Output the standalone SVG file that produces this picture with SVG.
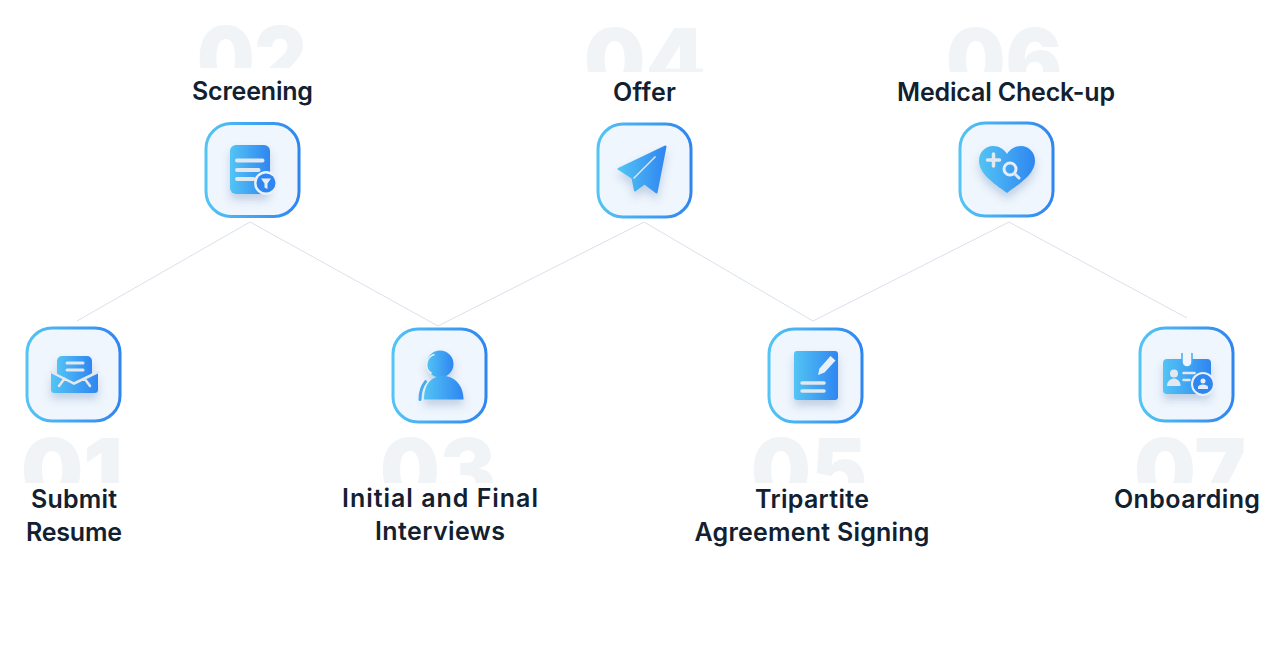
<svg xmlns="http://www.w3.org/2000/svg" width="1288" height="646" viewBox="0 0 1288 646">
<style>
.num{font-family:"Inter","Liberation Sans",sans-serif;font-weight:900;font-size:88px;fill:#f1f4f7;text-anchor:middle}
.lb{font-family:"Inter","Liberation Sans",sans-serif;font-weight:600;font-size:25px;fill:#12202f;text-anchor:middle}
.box{fill:#f0f6fd;stroke:url(#g);stroke-width:3}
.ic{fill:url(#g)}
.lt{stroke:#e3e8f0;stroke-linecap:round;fill:none}
.cn{fill:none;stroke:#d8e1eb;stroke-width:1}
</style>
<defs>
<linearGradient id="g" x1="0" y1="0" x2="1" y2="0"><stop offset="0" stop-color="#53c4f4"/><stop offset="1" stop-color="#2f86f1"/></linearGradient>
<filter id="s" x="-30%" y="-30%" width="160%" height="170%"><feDropShadow dx="0" dy="6" stdDeviation="4" flood-color="#2a5a9a" flood-opacity=".25"/></filter>
<clipPath id="c1"><rect x="180" y="0" width="140" height="68"/></clipPath>
<clipPath id="c2"><rect x="570" y="0" width="500" height="72"/></clipPath>
<clipPath id="c3"><rect x="0" y="420" width="1288" height="63"/></clipPath>
<rect id="b" x="-46.500" y="-46.500" width="93" height="93" rx="25" class="box"/>
</defs>
<rect width="1288" height="646" fill="#ffffff"/>
<g id="connectors"><polyline class="cn" points="77,321 250,222 438,326 644,222 813,321 1009,222 1187,318"/></g>
<g id="node-01">
<text class="num" x="72" y="502" textLength="102" lengthAdjust="spacingAndGlyphs" clip-path="url(#c3)">01</text>
<g transform="translate(73.500 374.500)"><use href="#b"/>
<g filter="url(#s)"><rect class="ic" x="-16.500" y="-18.500" width="35" height="30" rx="5"/><path class="ic" d="M-22.500-2.500 L.5 9 L24.500-2.500 V15 a3.500 3.500 0 0 1-3.500 3.500 H-19 a3.500 3.500 0 0 1-3.500-3.500Z"/></g>
<path class="lt" stroke-width="2.500" d="M-22.500-2.500 L.5 9 L24.500-2.500M-14.500 11.500 L-9 4M16.500 11.500 L11 4"/>
<path class="lt" stroke-width="3" stroke-linecap="butt" d="M-6.500-11.500H9.500M-6.500-4.500H9.500"/></g>
<text class="lb" x="74" y="508" textLength="86">Submit</text><text class="lb" x="74" y="541" textLength="96">Resume</text></g>
<g id="node-02">
<text class="num" x="252" y="90" textLength="110" lengthAdjust="spacingAndGlyphs" clip-path="url(#c1)">02</text>
<text class="lb" x="252.500" y="100" textLength="121">Screening</text>
<g transform="translate(252.500 170)"><use href="#b"/>
<rect class="ic" filter="url(#s)" x="-22.500" y="-25" width="40" height="49" rx="6"/>
<path class="lt" stroke-width="4" d="M-15.500-9.500H10M-15.500 0H6M-15.500 9H1"/>
<circle cx="13.500" cy="13" r="12" fill="#eaf1fa"/><circle cx="13.500" cy="13" r="9.500" fill="#2f86f1"/>
<path d="M8.500 8.500H18.500L15 13.500V19L12 17.500V13.500Z" fill="#e6edf6"/></g></g>
<g id="node-03">
<text class="num" x="438" y="502" textLength="116" lengthAdjust="spacingAndGlyphs" clip-path="url(#c3)">03</text>
<g transform="translate(439.500 375.500)"><use href="#b"/>
<g filter="url(#s)"><circle class="ic" cx=".5" cy="-11.500" r="13.500"/><path class="ic" d="M-15.500 24 C-15.500 8-8 .5 4 .5 C15 .5 24 10 24 24Z"/></g>
<path d="M-8-2A10.500 10.500 0 0 1-5-21" fill="none" stroke="#eef3fa" stroke-width="1.500"/>
<path d="M-19.500 24C-19.500 14-16 8-12 4" fill="none" stroke="#45abf3" stroke-width="3" stroke-linecap="round" stroke-dasharray="19 3 2 30"/></g>
<text class="lb" x="440" y="507" textLength="196">Initial and Final</text><text class="lb" x="440" y="540" textLength="130">Interviews</text></g>
<g id="node-04">
<text class="num" x="645" y="92" textLength="122" lengthAdjust="spacingAndGlyphs" clip-path="url(#c2)">04</text>
<text class="lb" x="644.500" y="101" textLength="63">Offer</text>
<g transform="translate(644.500 170.500)"><use href="#b"/>
<path class="ic" filter="url(#s)" stroke="url(#g)" stroke-width="2" stroke-linejoin="round" d="M21-24 L-26-1.500 L-12 7.500 L-9.500 20 L0 13 L12 22Z"/>
<path d="M11-14 L-11 8" stroke="#dde6f2" stroke-width="1.500" fill="none"/></g></g>
<g id="node-05">
<text class="num" x="809" y="502" textLength="116" lengthAdjust="spacingAndGlyphs" clip-path="url(#c3)">05</text>
<g transform="translate(815.500 375.500)"><use href="#b"/>
<rect class="ic" filter="url(#s)" x="-21.500" y="-24.500" width="44" height="49" rx="3"/>
<path d="M2.500-.5 L4-7 L15-19.500 L20-15 L9-3Z" fill="#eaf0f8"/>
<path class="lt" stroke-width="3.500" stroke-linecap="butt" d="M-13.500 7.500H8.500M-13.500 15.500H8.500"/></g>
<text class="lb" x="812" y="508" textLength="114">Tripartite</text><text class="lb" x="812" y="541" textLength="235">Agreement Signing</text></g>
<g id="node-06">
<text class="num" x="1004" y="92" textLength="116" lengthAdjust="spacingAndGlyphs" clip-path="url(#c2)">06</text>
<text class="lb" x="1006" y="101" textLength="218">Medical Check-up</text>
<g transform="translate(1006.500 169.500)"><use href="#b"/>
<path class="ic" filter="url(#s)" d="M.5 23.500 C-14 13-27.500 4-27.500-9 C-27.500-18-20.500-23.500-13.500-23.500 C-7.500-23.500-2.500-20.500.5-15.500 C3.500-20.500 8.500-23.500 14.500-23.500 C21.500-23.500 28.500-18 28.500-9 C28.500 4 15 13 .5 23.500Z"/>
<path class="lt" stroke-width="3.500" d="M-19-9.500H-7M-13-15.500V-3.500"/>
<circle cx="3.500" cy="-.5" r="6" fill="none" stroke="#e6edf6" stroke-width="3"/>
<path class="lt" stroke-width="3" d="M8 4L12.500 8.500"/></g></g>
<g id="node-07">
<text class="num" x="1190" y="502" textLength="112" lengthAdjust="spacingAndGlyphs" clip-path="url(#c3)">07</text>
<g transform="translate(1186.500 374.500)"><use href="#b"/>
<rect class="ic" filter="url(#s)" x="-23.500" y="-15.500" width="48" height="35" rx="4"/>
<path d="M-4.500-21.500V-12.500A5 5 0 0 0 5.500-12.500V-21.500Z" fill="#f0f6fd"/>
<path d="M-4.500-21.500V-12.500A5 5 0 0 0 5.500-12.500V-21.500" fill="none" stroke="#45abf3" stroke-width="1.500"/>
<circle cx="-12.500" cy="-1" r="4" fill="#e3e8f0"/><path d="M-19.500 11.500C-19.500 6-15 4-12.500 4S-6 6-6 11.500Z" fill="#e3e8f0"/>
<path class="lt" stroke-width="2.500" d="M-3-1.500H8M-3 5.500H3"/>
<circle cx="16.500" cy="9.500" r="12" fill="#eaf1fa"/><circle cx="16.500" cy="9.500" r="10" fill="#2f86f1"/>
<circle cx="16.500" cy="6.500" r="2.500" fill="#e6edf6"/><path d="M11.500 14.500V12.500C11.500 11 14 10 16.500 10S21.500 11 21.500 12.500V14.500Z" fill="#e6edf6"/></g>
<text class="lb" x="1187" y="508" textLength="146">Onboarding</text></g>
</svg>
